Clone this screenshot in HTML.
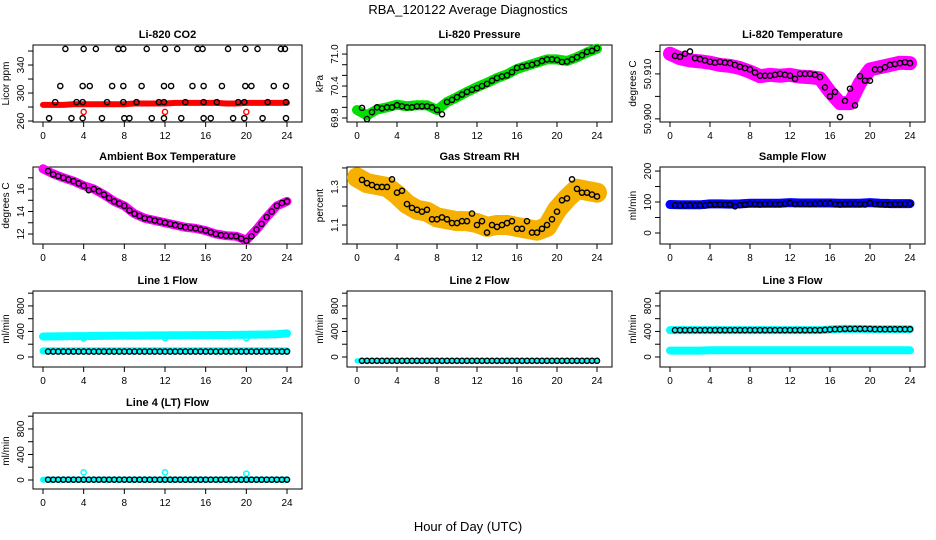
<!DOCTYPE html>
<html><head><meta charset="utf-8"><style>
body{margin:0;background:#fff}
svg{display:block;font-family:"Liberation Sans",sans-serif}
</style></head><body>
<svg id="c" width="936" height="540" viewBox="0 0 936 540" xmlns="http://www.w3.org/2000/svg">
<text x="468" y="14" text-anchor="middle" font-size="13">RBA_120122  Average Diagnostics</text>
<text x="468" y="531" text-anchor="middle" font-size="13">Hour of Day (UTC)</text>
</svg>
<script>
const hourly=[0,1,2,3,4,5,6,7,8,9,10,11,12,13,14,15,16,17,18,19,20,21,22,23,24];
const half=[0.5,1,1.5,2,2.5,3,3.5,4,4.5,5,5.5,6,6.5,7,7.5,8,8.5,9,9.5,10,10.5,11,11.5,12,12.5,13,13.5,14,14.5,15,15.5,16,16.5,17,17.5,18,18.5,19,19.5,20,20.5,21,21.5,22,22.5,23,23.5,24];
const xTicks=[0,4,8,12,16,20,24];

// CO2
const co2Hours=[2.2,4.0,5.2,7.4,7.9,10.2,12.0,13.2,15.2,15.7,18.2,19.9,21.1,23.4,23.8, 1.7,3.9,4.6,6.8,7.9,9.7,11.9,12.6,14.7,15.8,17.6,19.9,20.5,22.7,23.9, 1.2,3.3,3.9,6.3,7.9,9.2,11.4,11.9,14.0,15.8,17.1,19.2,19.8,22.1,23.9, 0.6,2.8,3.9,5.8,8.0,8.5,10.7,11.9,13.6,15.8,16.5,18.7,19.8,21.6,23.9];
const co2Values=[363,363,363,363,363,363,363,363,363,363,363,363,363,363,363, 310,310,310,310,310,310,310,310,310,310,310,310,310,310,310, 287,287,287,287,287,287,287,287,287,287,287,287,287,287,287, 264,264,264,264,264,264,264,264,264,264,264,264,264,264,264];
const co2Band=[283,283,283,284,284,284,284,284,284,285,285,285,285,286,286,286,286,286,285,285,286,286,286,286,286];
const co2OutHours=[4,12,20];
const co2OutValues=[273,273,273];

const presBlack=[69.99,69.78,69.91,70.0,69.98,70.0,70.0,70.04,70.02,70.0,70.0,70.02,70.02,70.02,70.0,69.95,69.87,70.1,70.14,70.19,70.24,70.29,70.33,70.36,70.4,70.44,70.5,70.55,70.58,70.6,70.66,70.74,70.76,70.78,70.8,70.83,70.87,70.9,70.9,70.89,70.85,70.86,70.9,70.94,70.98,71.04,71.06,71.11];
const presBand=[69.95,69.85,69.96,70.0,70.05,70.02,70.04,70.04,69.95,70.1,70.19,70.29,70.38,70.46,70.55,70.62,70.72,70.78,70.84,70.9,70.9,70.87,70.94,71.03,71.1];

const ltBlack=[50.914,50.9138,50.9145,50.915,50.9135,50.9133,50.913,50.9127,50.9125,50.9127,50.9125,50.9124,50.912,50.9116,50.9113,50.911,50.9103,50.9096,50.9096,50.9096,50.9098,50.91,50.9098,50.9096,50.9089,50.91,50.91,50.91,50.9098,50.9093,50.907,50.905,50.906,50.9004,50.904,50.9067,50.903,50.9095,50.9085,50.9085,50.911,50.911,50.9115,50.912,50.9122,50.9124,50.9126,50.9124];
const ltBand=[50.9145,50.9135,50.913,50.9128,50.9125,50.912,50.9118,50.9113,50.9105,50.9095,50.9098,50.9096,50.9098,50.9094,50.9093,50.909,50.906,50.9035,50.9035,50.908,50.911,50.9115,50.912,50.9125,50.9124];

const ambBlack=[17.6,17.3,17.15,17.0,16.85,16.7,16.5,16.3,15.9,16.0,15.8,15.5,15.2,14.9,14.7,14.5,14.1,13.8,13.6,13.4,13.3,13.2,13.1,13.0,12.9,12.8,12.7,12.6,12.55,12.5,12.4,12.3,12.15,12.0,11.9,11.85,11.82,11.8,11.6,11.4,11.8,12.4,12.9,13.5,14.0,14.5,14.75,14.9];
const ambBand=[17.8,17.35,17.0,16.7,16.3,16.0,15.5,14.9,14.5,13.8,13.4,13.2,13.0,12.8,12.6,12.5,12.3,12.0,11.85,11.8,11.45,12.4,13.5,14.5,14.9];

const rhBlack=[1.337,1.32,1.31,1.30,1.30,1.30,1.34,1.27,1.28,1.21,1.19,1.18,1.17,1.18,1.13,1.13,1.14,1.13,1.11,1.11,1.12,1.12,1.16,1.10,1.12,1.06,1.10,1.09,1.10,1.11,1.12,1.08,1.08,1.12,1.06,1.06,1.08,1.10,1.13,1.17,1.23,1.24,1.34,1.29,1.27,1.27,1.26,1.25];
const rhBand=[1.35,1.32,1.31,1.30,1.26,1.21,1.18,1.17,1.14,1.13,1.12,1.12,1.11,1.09,1.10,1.10,1.09,1.08,1.07,1.09,1.18,1.24,1.29,1.28,1.27];

const sfBlack=[90,89,89,90,89,90,89,91,92,92,91,92,86,90,92,94,93,92,93,94,93,93,94,97,93,94,94,93,94,95,95,96,93,92,93,94,94,93,92,97,93,93,92,92,93,93,94,95];
const sfBand=[92,91,91,91,94,94,93,94,96,96,96,96,98,97,97,97,97,96,96,96,98,96,95,95,95];

const l1Black=[85,85,85,85,85,85,85,85,85,85,85,85,85,85,85,85,85,85,85,85,85,85,85,85,85,85,85,85,85,85,85,85,85,85,85,85,85,85,85,85,85,85,85,85,85,85,85,85];
const l1BandHi=[320,322,324,326,326,328,330,332,334,334,336,338,338,340,340,342,342,344,344,346,348,350,352,356,370];
const l1BandLo=[95,95,95,95,95,95,95,95,95,95,95,95,95,95,95,95,95,95,95,95,95,95,95,95,95];
const l1OutHours=[4,12,20];
const l1OutValues=[290,295,295];

const l2Black=[-60,-60,-60,-60,-60,-60,-60,-60,-60,-60,-60,-60,-60,-60,-60,-60,-60,-60,-60,-60,-60,-60,-60,-60,-60,-60,-60,-60,-60,-60,-60,-60,-60,-60,-60,-60,-60,-60,-60,-60,-60,-60,-60,-60,-60,-60,-60,-60];
const l2Band=[-60,-60,-60,-60,-60,-60,-60,-60,-60,-60,-60,-60,-60,-60,-60,-60,-60,-60,-60,-60,-60,-60,-60,-60,-60];

const l3Black=[420,420,420,420,420,420,420,420,420,420,420,420,420,420,420,420,420,420,420,420,420,420,420,420,420,420,420,420,420,420,425,430,435,435,440,440,440,440,440,440,435,435,435,435,435,435,435,435];
const l3BandHi=[420,420,420,420,420,420,420,420,420,420,420,420,420,420,420,420,430,440,440,440,435,435,435,435,435];
const l3BandLo=[100,100,100,100,105,105,105,105,105,105,105,105,105,105,105,105,105,105,105,105,105,105,105,105,105];

const l4Black=[5,5,5,5,5,5,5,5,5,5,5,5,5,5,5,5,5,5,5,5,5,5,5,5,5,5,5,5,5,5,5,5,5,5,5,5,5,5,5,5,5,5,5,5,5,5,5,5];
const l4Band=[5,5,5,5,5,5,5,5,5,5,5,5,5,5,5,5,5,5,5,5,5,5,5,5,5];
const l4OutHours=[4,12,20];
const l4OutValues=[120,120,100];

const NS="http://www.w3.org/2000/svg";
const svg=document.getElementById('c');
const cols=[[33,302],[347,612],[660,925]];
const rows=[[45,122],[167,244],[291,367],[413,489]];
function mk(tag,attrs,parent){const e=document.createElementNS(NS,tag);for(const k in attrs)e.setAttribute(k,attrs[k]);(parent||svg).appendChild(e);return e;}

function panel(o){
  const [L,R]=cols[o.col],[T,B]=rows[o.row];
  const g=mk('g',{});
  
  
  const xs=h=>L+10+h*(R-L-25)/24;
  const ys=v=>B-(v-o.ymin)/(o.ymax-o.ymin)*(B-T);
  const box=mk('rect',{x:L,y:T,width:R-L,height:B-T,fill:'none',stroke:'#000','stroke-width':1},g);
  
  
  const t=mk('text',{x:(L+R)/2,y:T-7,'text-anchor':'middle','font-size':11,'font-weight':'bold'},g);
  t.textContent=o.title;
  
  
  // x axis
  mk('line',{x1:xs(0),x2:xs(24),y1:B,y2:B,stroke:'#000'},g);
  xTicks.forEach(h=>{
    mk('line',{x1:xs(h),x2:xs(h),y1:B,y2:B+5,stroke:'#000'},g);
    const tl=mk('text',{x:xs(h),y:B+17,'text-anchor':'middle','font-size':10},g);
    tl.textContent=h;
    
    
  });
  // y axis
  const yt=o.yticks;
  mk('line',{x1:L,x2:L,y1:ys(yt[0]),y2:ys(yt[yt.length-1]),stroke:'#000'},g);
  yt.forEach((v,i)=>{
    mk('line',{x1:L,x2:L-5,y1:ys(v),y2:ys(v),stroke:'#000'},g);
    if(o.ylabels[i]!==''){
      const yl=mk('text',{x:L-9,y:ys(v),'text-anchor':'middle','font-size':10,transform:`rotate(-90 ${L-9} ${ys(v)})`},g);
      yl.textContent=o.ylabels[i];
      
      
    }
  });
  const yx=L-24,yy=(T+B)/2;
  const ytl=mk('text',{x:yx,y:yy,'text-anchor':'middle','font-size':10,transform:`rotate(-90 ${yx} ${yy})`},g);
  ytl.textContent=o.ytitle;
  
  
  // bands
  (o.bands||[]).forEach(b=>{
    const p=mk('polyline',{points:b.h.map((h,i)=>xs(h)+','+ys(b.v[i])).join(' '),fill:'none',stroke:b.color,'stroke-width':b.w,'stroke-linecap':'round','stroke-linejoin':'round'},g);
    
    
  });
  (o.pts||[]).forEach(s=>{
    s.h.forEach((h,i)=>{
      const c=mk('circle',{cx:xs(h),cy:ys(s.v[i]),r:2.6,fill:'none',stroke:s.color,'stroke-width':1.4},g);
      
      
    });
  });
}
const flowT=[0,200,400,600,800,1000],flowL=['0','','400','','800',''];
panel({name:'co2-panel',col:0,row:0,title:'Li-820 CO2',ytitle:'Licor ppm',ymin:258.6,ymax:368.6,yticks:[260,280,300,320,340,360],ylabels:['260','','300','','340',''],
  bands:[{h:hourly,v:co2Band,color:'#ff0000',w:6}],pts:[{h:co2OutHours,v:co2OutValues,color:'#ff0000',label:'co2-outlier'},{h:co2Hours,v:co2Values,color:'#000',label:'co2-average'}]});
panel({name:'pressure-panel',col:1,row:0,title:'Li-820 Pressure',ytitle:'kPa',ymin:69.725,ymax:71.17,yticks:[69.8,70.0,70.2,70.4,70.6,70.8,71.0],ylabels:['69.8','','','70.4','','','71.0'],
  bands:[{h:hourly,v:presBand,color:'#00e000',w:10}],pts:[{h:half,v:presBlack,color:'#000',label:'pressure-average'}]});
panel({name:'licor-temp-panel',col:2,row:0,title:'Li-820 Temperature',ytitle:'degrees C',ymin:50.8993,ymax:50.91644,yticks:[50.900,50.905,50.910,50.915],ylabels:['50.900','','50.910',''],
  bands:[{h:hourly,v:ltBand,color:'#ff00ff',w:14}],pts:[{h:half,v:ltBlack,color:'#000',label:'licor-temp-average'}]});
panel({name:'ambient-temp-panel',col:0,row:1,title:'Ambient Box Temperature',ytitle:'degrees C',ymin:11.11,ymax:17.96,yticks:[12,13,14,15,16,17],ylabels:['12','','14','','16',''],
  bands:[{h:hourly,v:ambBand,color:'#ff00ff',w:9}],pts:[{h:half,v:ambBlack,color:'#000',label:'ambient-temp-average'}]});
panel({name:'rh-panel',col:1,row:1,title:'Gas Stream RH',ytitle:'percent',ymin:1.0,ymax:1.405,yticks:[1.0,1.1,1.2,1.3,1.4],ylabels:['','1.1','','1.3',''],
  bands:[{h:hourly,v:rhBand,color:'#f5b000',w:20}],pts:[{h:half,v:rhBlack,color:'#000',label:'rh-average'}]});
panel({name:'sample-flow-panel',col:2,row:1,title:'Sample Flow',ytitle:'ml/min',ymin:-35.5,ymax:213,yticks:[0,50,100,150,200],ylabels:['0','','100','','200'],
  bands:[{h:hourly,v:sfBand,color:'#0000ff',w:9}],pts:[{h:half,v:sfBlack,color:'#000',label:'sample-flow-average'}]});
panel({name:'line1-flow-panel',col:0,row:2,title:'Line 1 Flow',ytitle:'ml/min',ymin:-157,ymax:1034,yticks:flowT,ylabels:flowL,
  bands:[{h:hourly,v:l1BandHi,color:'#00ffff',w:8},{h:hourly,v:l1BandLo,color:'#00ffff',w:7}],pts:[{h:l1OutHours,v:l1OutValues,color:'#00ffff',label:'line1-outlier'},{h:half,v:l1Black,color:'#000',label:'line1-average'}]});
panel({name:'line2-flow-panel',col:1,row:2,title:'Line 2 Flow',ytitle:'ml/min',ymin:-157,ymax:1034,yticks:flowT,ylabels:flowL,
  bands:[{h:hourly,v:l2Band,color:'#00ffff',w:5}],pts:[{h:half,v:l2Black,color:'#000',label:'line2-average'}]});
panel({name:'line3-flow-panel',col:2,row:2,title:'Line 3 Flow',ytitle:'ml/min',ymin:-157,ymax:1034,yticks:flowT,ylabels:flowL,
  bands:[{h:hourly,v:l3BandHi,color:'#00ffff',w:8},{h:hourly,v:l3BandLo,color:'#00ffff',w:8}],pts:[{h:half,v:l3Black,color:'#000',label:'line3-average'}]});
panel({name:'line4-flow-panel',col:0,row:3,title:'Line 4 (LT) Flow',ytitle:'ml/min',ymin:-141,ymax:1050,yticks:flowT,ylabels:flowL,
  bands:[{h:hourly,v:l4Band,color:'#00ffff',w:6}],pts:[{h:l4OutHours,v:l4OutValues,color:'#00ffff',label:'line4-outlier'},{h:half,v:l4Black,color:'#000',label:'line4-average'}]});
</script>
</body></html>
